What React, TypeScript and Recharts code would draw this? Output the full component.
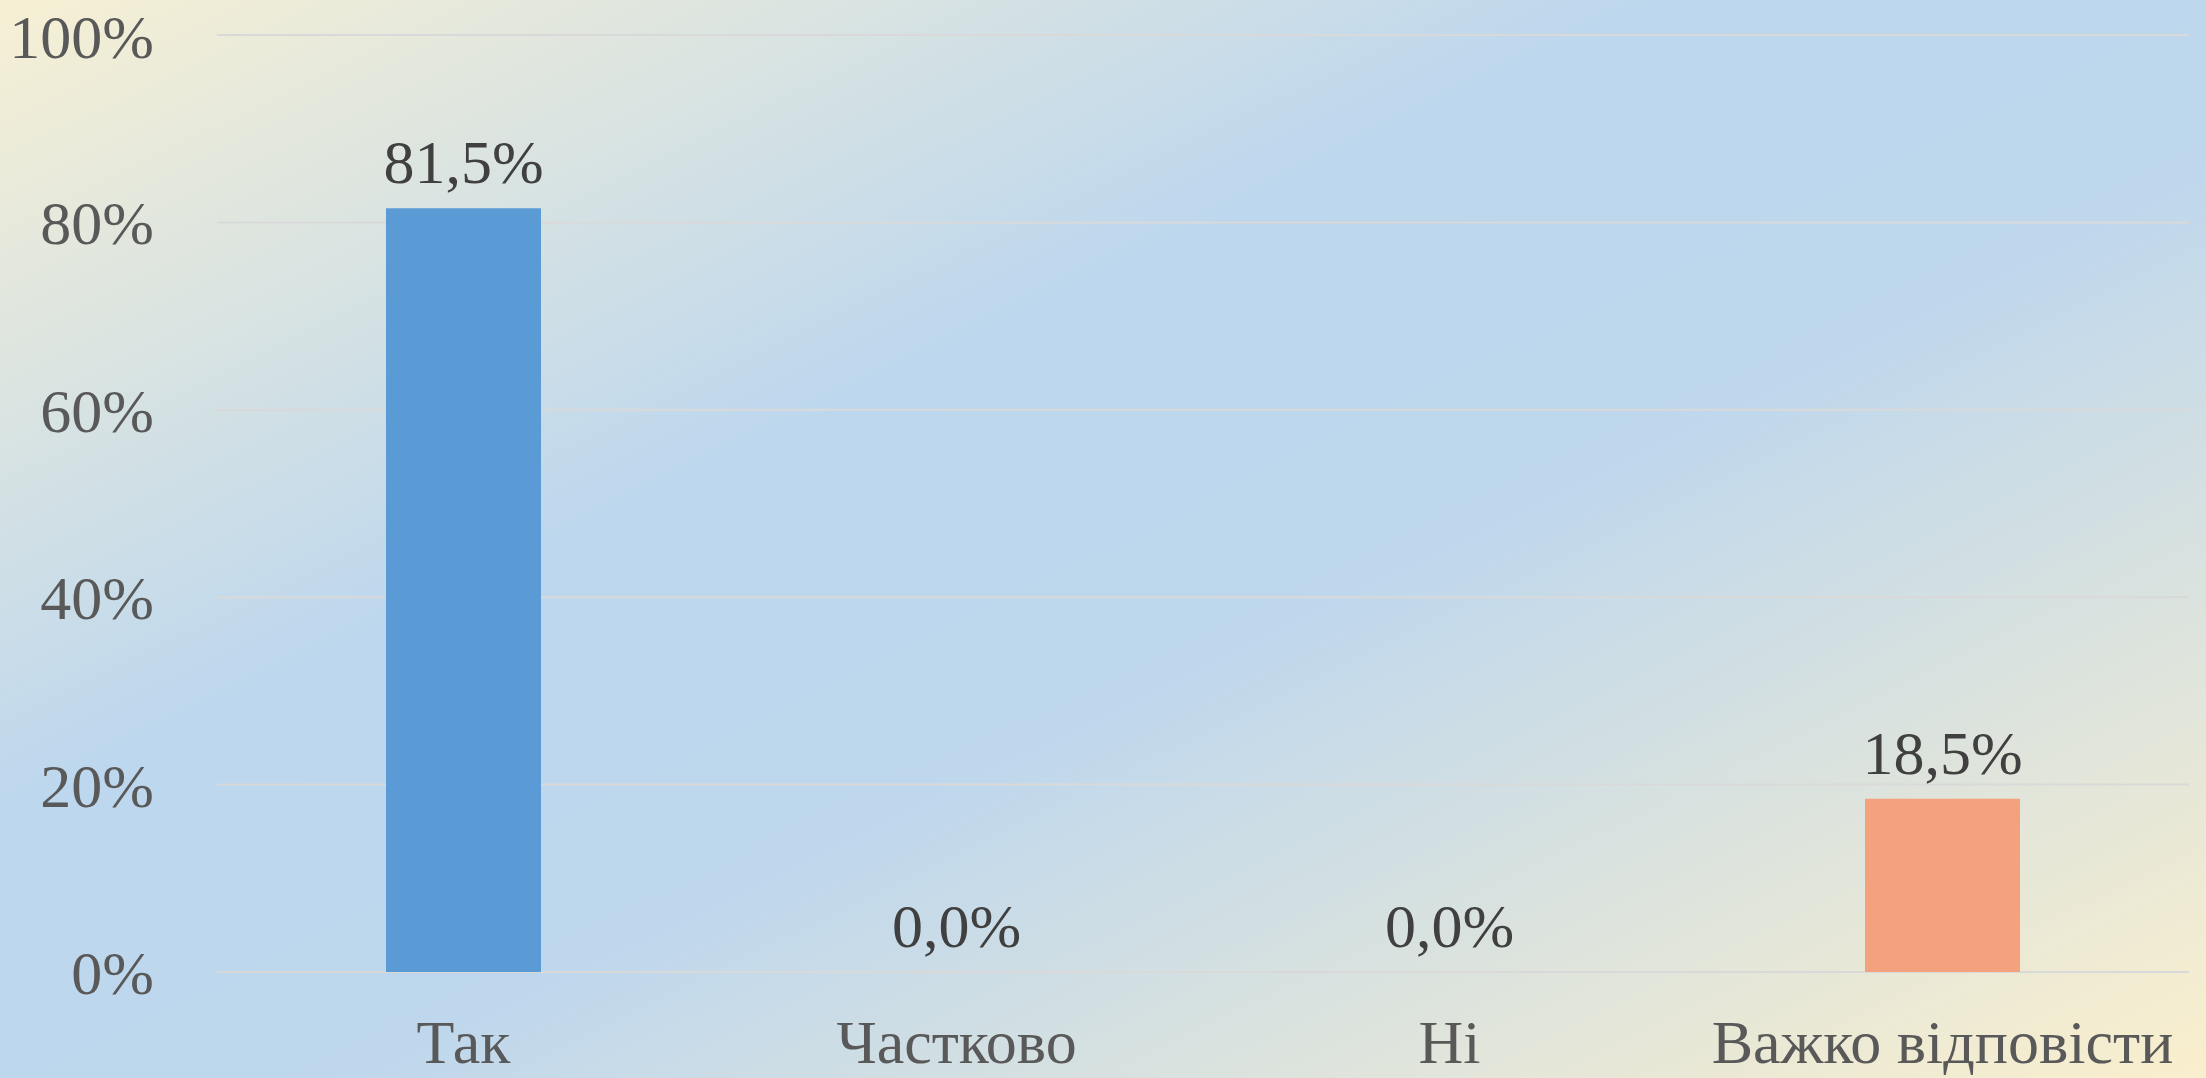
import { BarChart, Bar, XAxis, YAxis, CartesianGrid, LabelList, Cell } from "recharts";

const CATEGORIES = ["Так", "Частково", "Ні", "Важко відповісти"];
const SHARES = [81.5, 0, 0, 18.5];
const Y_TICKS = [0, 20, 40, 60, 80, 100];
const BAR_COLORS = ["#5B9BD5", "#5B9BD5", "#5B9BD5", "#F4A27E"];

const FONT = '"Liberation Serif", "Times New Roman", serif';

const data = CATEGORIES.map((name, i) => ({ name, share: SHARES[i] }));

const fmtLabel = (v: unknown) => `${Number(v ?? 0).toFixed(1).replace(".", ",")}%`;

export default function App() {
  return (
    <div
      style={{
        position: "absolute",
        left: 0,
        top: 0,
        width: 2206,
        height: 1078,
        background:
          "linear-gradient(to bottom right, #F7F0D4 0%, #BDD7EE 38%, #BED7ED 57%, #FAEFCD 100%)",
      }}
    >
      <BarChart
        width={2206}
        height={1078}
        data={data}
        margin={{ top: 35, right: 17, left: 0, bottom: 0 }}
      >
        <CartesianGrid vertical={false} stroke="#D9D9D9" strokeWidth={2} />
        <XAxis
          dataKey="name"
          height={106}
          axisLine={false}
          tickLine={false}
          tickSize={0}
          tickMargin={47}
          interval={0}
          tick={{ fontSize: 62, fill: "#595959", fontFamily: FONT }}
        />
        <YAxis
          width={217}
          domain={[0, 100]}
          ticks={Y_TICKS}
          axisLine={false}
          tickLine={false}
          tickSize={0}
          tickMargin={63}
          tickFormatter={(v: number) => `${v}%`}
          tick={{ fontSize: 62, fill: "#595959", fontFamily: FONT }}
        />
        <Bar dataKey="share" barSize={155} minPointSize={0.01} isAnimationActive={false}>
          {data.map((_, i) => (
            <Cell key={i} fill={BAR_COLORS[i]} />
          ))}
          <LabelList
            dataKey="share"
            position="top"
            offset={25}
            formatter={fmtLabel}
            style={{ fontSize: 62, fill: "#404040", fontFamily: FONT }}
          />
        </Bar>
      </BarChart>
    </div>
  );
}
